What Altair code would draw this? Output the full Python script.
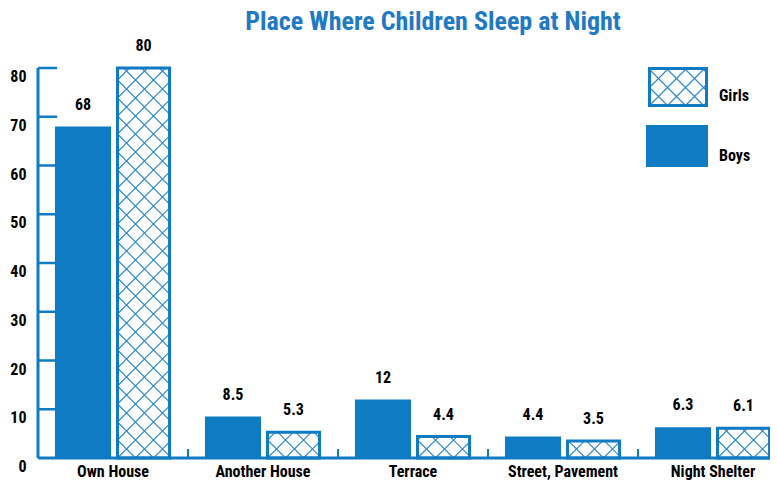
import altair as alt
import pandas as pd

# ---------------- data ----------------
categories = ["Own House", "Another House", "Terrace", "Street, Pavement", "Night Shelter"]
boys = [68, 8.5, 12, 4.4, 6.3]
girls = [80, 5.3, 4.4, 3.5, 6.1]
y_ticks = [0, 10, 20, 30, 40, 50, 60, 70, 80]
legend_labels = ["Girls", "Boys"]
title_text = "Place Where Children Sleep at Night"

# ---------------- style ----------------
BLUE = "#0f7bc3"
TITLE_BLUE = "#2079c2"
HATCH = "#2a88cf"
FONT = "Liberation Sans Narrow, Roboto Condensed, DejaVu Sans Condensed, Arial Narrow, sans-serif"

W, H = 732, 390
YMAX = 80
PX_X = 150.0            # pixels per category slot
PX_Y = H / YMAX         # pixels per unit
XMAX = W / PX_X

BOY_L, BOY_R = 0.113, 0.487
GIRL_L, GIRL_R = 0.530, 0.877
SPACING = 18.0          # hatch spacing in px

xs = alt.Scale(domain=[0, XMAX], nice=False, zero=False)
ys = alt.Scale(domain=[0, YMAX], nice=False)


def hatch(x0, y0, w_px, h_px, s=SPACING):
    """Cross-hatch segments inside a rect whose bottom-left is (x0, y0) in data units."""
    segs = []
    k = int(-w_px // s)
    while k * s < h_px:
        c = k * s
        u1, u2 = max(0.0, -c), min(w_px, h_px - c)
        if u2 > u1:
            segs.append((u1, u1 + c, u2, u2 + c))
        k += 1
    k = 1
    while k * s < w_px + h_px:
        c = k * s
        u1, u2 = max(0.0, c - h_px), min(w_px, c)
        if u2 > u1:
            segs.append((u1, c - u1, u2, c - u2))
        k += 1
    return [
        {"x": x0 + a / PX_X, "y": y0 + b / PX_Y, "x2": x0 + c2 / PX_X, "y2": y0 + d / PX_Y}
        for a, b, c2, d in segs
    ]


n = len(categories)
bars = pd.DataFrame({
    "cat": categories,
    "boys": boys,
    "girls": girls,
    "zero": [0.0] * n,
    "bl": [i + BOY_L for i in range(n)],
    "br": [i + BOY_R for i in range(n)],
    "gl": [i + GIRL_L for i in range(n)],
    "gr": [i + GIRL_R for i in range(n)],
    "mid": [i + 0.5 for i in range(n)],
    "bc": [i + (BOY_L + BOY_R) / 2 for i in range(n)],
    "gc": [i + (GIRL_L + GIRL_R) / 2 for i in range(n)],
})

hatch_rows = []
for i, g in enumerate(girls):
    hatch_rows += hatch(i + GIRL_L, 0.0, (GIRL_R - GIRL_L) * PX_X, g * PX_Y)

# legend geometry (pixels from plot top-left) converted to data units
LEG_X0, LEG_X1 = 611.5, 668.5
LEG_G_TOP, LEG_G_BOT = 0.5, 37.5
LEG_B_TOP, LEG_B_BOT = 57.0, 99.0
LEG_BX0, LEG_BX1 = 608.0, 670.0
LEG_TX = 681.0
LEG_G_TXT, LEG_B_TXT = 33.0, 93.0


def px2x(p):
    return p / PX_X


def px2y(p):
    return YMAX - p / PX_Y


legend_rects = pd.DataFrame({
    "lab": legend_labels,
    "x": [px2x(LEG_X0), px2x(LEG_BX0)],
    "x2": [px2x(LEG_X1), px2x(LEG_BX1)],
    "y": [px2y(LEG_G_BOT), px2y(LEG_B_BOT)],
    "y2": [px2y(LEG_G_TOP), px2y(LEG_B_TOP)],
    "tx": [px2x(LEG_TX), px2x(LEG_TX)],
    "ty": [px2y(LEG_G_TXT), px2y(LEG_B_TXT)],
})
hatch_rows += hatch(px2x(LEG_X0), px2y(LEG_G_BOT), LEG_X1 - LEG_X0, LEG_G_BOT - LEG_G_TOP)
hatch_df = pd.DataFrame(hatch_rows)

ticks_df = pd.DataFrame({"v": y_ticks, "x0": [0.0] * len(y_ticks), "x1": [19 / PX_X] * len(y_ticks)})
frame_df = pd.DataFrame({"x0": [0.0], "x1": [XMAX], "y0": [0.0], "y1": [float(YMAX)]})
xt_df = pd.DataFrame({"x": [float(i) for i in range(1, n)], "y0": [0.0] * (n - 1), "y1": [9 / PX_Y] * (n - 1)})


def X(f):
    return alt.X(f, type="quantitative", scale=xs, axis=None)


def Y(f):
    return alt.Y(f, type="quantitative", scale=ys, axis=None)


base = alt.Chart(bars)

boy_bars = base.mark_rect(color=BLUE).encode(x=X("bl"), x2="br", y=Y("boys"), y2="zero")
girl_fill = base.mark_rect(fill="white").encode(x=X("gl"), x2="gr", y=Y("girls"), y2="zero")
hatch_layer = alt.Chart(hatch_df).mark_rule(color=HATCH, strokeWidth=1.1).encode(
    x=X("x"), x2="x2", y=Y("y"), y2="y2"
)
girl_stroke = base.mark_rect(fillOpacity=0, stroke=BLUE, strokeWidth=3).encode(
    x=X("gl"), x2="gr", y=Y("girls"), y2="zero"
)
lab_style = dict(font=FONT, fontSize=16, fontWeight="bold", color="black",
                 align="center", baseline="alphabetic", dy=-17)
boy_labels = base.mark_text(**lab_style).encode(x=X("bc"), y=Y("boys"), text="boys:N")
girl_labels = base.mark_text(**lab_style).encode(x=X("gc"), y=Y("girls"), text="girls:N")

cat_labels = base.mark_text(font=FONT, fontSize=16, fontWeight="bold", color="black",
                            align="center", baseline="alphabetic", dy=19).encode(
    x=X("mid"), y=Y("zero"), text="cat:N"
)

y_line = alt.Chart(frame_df).mark_rule(color=BLUE, strokeWidth=3).encode(
    x=X("x0"), y=Y("y0"), y2="y1"
)
y_ticks_layer = alt.Chart(ticks_df).transform_filter(alt.datum.v > 0).mark_rule(
    color=BLUE, strokeWidth=2.5).encode(x=X("x0"), x2="x1", y=Y("v"))
y_labels = alt.Chart(ticks_df).mark_text(font=FONT, fontSize=16, fontWeight="bold", color="black",
                                         align="right", baseline="alphabetic", dx=-11.5, dy=14).encode(
    x=X("x0"), y=Y("v"), text="v:N"
)
x_line = alt.Chart(frame_df).mark_rule(color=BLUE, strokeWidth=3).encode(
    x=X("x0"), x2="x1", y=Y("y0")
)
x_ticks_layer = alt.Chart(xt_df).mark_rule(color=BLUE, strokeWidth=2).encode(
    x=X("x"), y=Y("y0"), y2="y1"
)

leg = alt.Chart(legend_rects)
leg_girls_fill = leg.transform_filter(alt.datum.lab == "Girls").mark_rect(fill="white").encode(
    x=X("x"), x2="x2", y=Y("y"), y2="y2"
)
leg_girls_stroke = leg.transform_filter(alt.datum.lab == "Girls").mark_rect(
    fillOpacity=0, stroke=BLUE, strokeWidth=3).encode(x=X("x"), x2="x2", y=Y("y"), y2="y2")
leg_boys = leg.transform_filter(alt.datum.lab == "Boys").mark_rect(color=BLUE).encode(
    x=X("x"), x2="x2", y=Y("y"), y2="y2"
)
leg_text = leg.mark_text(font=FONT, fontSize=16, fontWeight="bold", color="black",
                         align="left", baseline="alphabetic").encode(
    x=X("tx"), y=Y("ty"), text="lab:N"
)

chart = alt.layer(
    leg_girls_fill, boy_bars, girl_fill, hatch_layer, girl_stroke, leg_girls_stroke, leg_boys,
    x_line, x_ticks_layer, y_line, y_ticks_layer,
    boy_labels, girl_labels, cat_labels, y_labels, leg_text,
).properties(
    width=W, height=H,
    padding={"left": 30, "top": 60, "right": 0, "bottom": 24},
    autosize=alt.AutoSizeParams(type="none"),
    title=alt.TitleParams(title_text, font=FONT, fontSize=26, fontWeight="bold",
                          color=TITLE_BLUE, anchor="middle", dx=29, offset=3),
    background="white",
).configure_view(strokeWidth=0)

chart.save("out.html", embed_options={"renderer": "svg", "actions": False})
